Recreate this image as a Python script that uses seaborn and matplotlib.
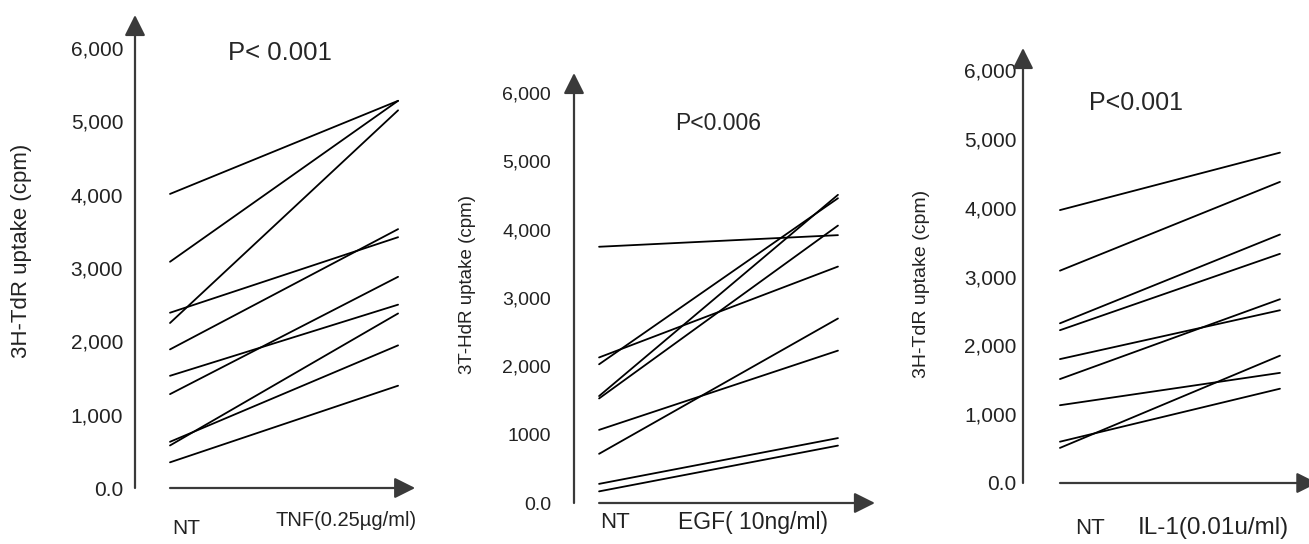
import numpy as np
import pandas as pd
import matplotlib
matplotlib.use('Agg')
import matplotlib.pyplot as plt
import seaborn as sns

# values (NT -> treated), cpm
tnf_nt = [4010, 3085, 2250, 2390, 1890, 1530, 1280, 630, 580, 350]
tnf_tr = [5280, 5280, 5150, 3420, 3530, 2500, 2880, 1945, 2380, 1395]

egf_nt = [3750, 2130, 2030, 1565, 1530, 1070, 720, 280, 170]
egf_tr = [3920, 3460, 4460, 4510, 4060, 2230, 2700, 950, 840]

il1_nt = [3965, 3085, 2320, 2220, 1800, 1510, 1130, 600, 510]
il1_tr = [4800, 4375, 3610, 3330, 2510, 2670, 1600, 1370, 1850]

yticks = [0, 1000, 2000, 3000, 4000, 5000, 6000]
ylabels_a = ['0.0', '1,000', '2,000', '3,000', '4,000', '5,000', '6,000']
ylabels_b = ['0.0', '1000', '2,000', '3,000', '4,000', '5,000', '6,000']

sns.set_style('white')
plt.rcParams['font.family'] = ['Liberation Sans', 'DejaVu Sans']

W, H = 1309, 544
fig = plt.figure(figsize=(W / 100, H / 100), dpi=100)


def px_axes(left, right, top, bottom):
    return fig.add_axes([left / W, (H - bottom) / H, (right - left) / W, (bottom - top) / H])


def long_df(nt, tr):
    rows = []
    for i, (a, b) in enumerate(zip(nt, tr)):
        rows.append({'subject': i, 'pos': 0, 'cpm': a})
        rows.append({'subject': i, 'pos': 1, 'cpm': b})
    return pd.DataFrame(rows)


def panel(ax, nt, tr, xl, xr, ytop, xtip, labels, pad, tsize):
    df = long_df(nt, tr)
    sns.lineplot(data=df, x='pos', y='cpm', units='subject', estimator=None,
                 color='black', lw=1.3, ax=ax, legend=False)
    ax.set_xlim(xl, xr)
    ax.set_ylim(0, ytop)
    for s in ax.spines.values():
        s.set_visible(False)
    ax.set_yticks(yticks)
    ax.set_yticklabels(labels)
    ax.set_xticks([0, 1])
    ax.set_xticklabels(['', ''])
    ax.tick_params(axis='y', direction='inout', length=7, width=1.2, pad=pad, labelsize=tsize, colors='#222')
    ax.tick_params(axis='x', direction='in', length=6, width=1, colors='#222')
    ax.set_xlabel('')
    ax.set_ylabel('')
    arrow = dict(arrowstyle='-|>,head_length=0.9,head_width=0.45', color='#3a3a3a',
                 lw=1.6, shrinkA=0, shrinkB=0, mutation_scale=14)
    ax.annotate('', xy=(xl, ytop), xytext=(xl, 0), arrowprops=arrow, annotation_clip=False)
    ax.annotate('', xy=(xtip, 0), xytext=(0, 0), arrowprops=arrow, annotation_clip=False)


def ftext(x, y, s, **kw):
    fig.text(x / W, 1 - y / H, s, **kw)


# panel 1: TNF
ax1 = px_axes(135, 430, 15, 488)
panel(ax1, tnf_nt, tnf_tr, -0.1535, 1.14, 6450, 1.075, ylabels_a, 5, 15)
ftext(228, 53, 'P< 0.001', fontsize=18.5, va='center')
ftext(22, 251, '3H-TdR uptake (cpm)', fontsize=16, rotation=90, va='center', ha='center', color='#222')
ftext(172, 529, 'NT', fontsize=15, va='center', color='#222')
ftext(276, 521, 'TNF(0.25\u00b5g/ml)', fontsize=14.5, va='center', color='#222')

# panel 2: EGF
ax2 = px_axes(574, 885, 73, 503)
panel(ax2, egf_nt, egf_tr, -0.105, 1.197, 6293, 1.155, ylabels_b, 13, 14)
ftext(675, 123, 'P<0.006', fontsize=16.5, va='center')
ftext(467, 285, '3T-HdR uptake (cpm)', fontsize=13.5, rotation=90, va='center', ha='center', color='#222')
ftext(600, 522, 'NT', fontsize=16, va='center', color='#222')
ftext(678, 522, 'EGF( 10ng/ml)', fontsize=16.5, va='center', color='#222')

# panel 3: IL-1
ax3 = px_axes(1023, 1309, 48, 483)
panel(ax3, il1_nt, il1_tr, -0.168, 1.132, 6320, 1.17, ylabels_a, 1, 15)
ftext(1089, 103, 'P<0.001', fontsize=18, va='center')
ftext(922, 284, '3H-TdR uptake (cpm)', fontsize=14, rotation=90, va='center', ha='center', color='#222')
ftext(1075, 529, 'NT', fontsize=16, va='center', color='#222')
ftext(1138, 528, 'IL-1(0.01u/ml)', fontsize=17.5, va='center', color='#222')

fig.savefig('out.png', dpi=100)
